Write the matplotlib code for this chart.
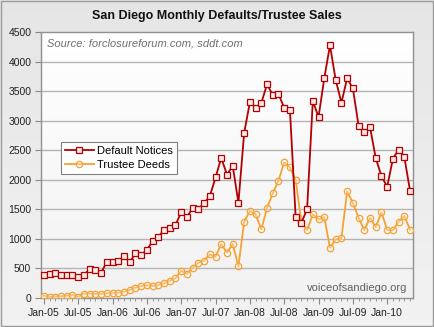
import matplotlib
matplotlib.use("Agg")
import matplotlib.pyplot as plt
import numpy as np

plt.rcParams['font.family'] = ['Liberation Sans', 'DejaVu Sans']

# Monthly data Jan-05 .. May-10
default_notices = [394, 400, 417, 394, 394, 389, 350, 394, 485, 468, 423, 614,
                   609, 620, 711, 605, 758, 727, 812, 964, 1037, 1150, 1189, 1235,
                   1450, 1365, 1528, 1500, 1607, 1720, 2040, 2370, 2087, 2235, 1612, 2791,
                   3311, 3219, 3299, 3615, 3434, 3451, 3219, 3185, 1370, 1274, 1500, 3333,
                   3062, 3717, 4275, 3688, 3304, 3717, 3547, 2915, 2803, 2888, 2368, 2059,
                   1883, 2357, 2509, 2380, 1810]
trustee_deeds = [40, 15, 25, 30, 40, 55, 20, 75, 75, 70, 70, 80,
                 80, 90, 105, 135, 175, 203, 214, 203, 220, 248, 293, 333,
                 462, 406, 513, 597, 630, 739, 697, 914, 767, 914, 535, 1291,
                 1472, 1416, 1162, 1522, 1771, 1985, 2296, 2211, 1996, 1291, 1150, 1416,
                 1331, 1365, 851, 993, 1010, 1805, 1612, 1358, 1150, 1358, 1201, 1450,
                 1150, 1145, 1291, 1387, 1155]
tick_labels = ['Jan-05', 'Jul-05', 'Jan-06', 'Jul-06', 'Jan-07', 'Jul-07',
               'Jan-08', 'Jul-08', 'Jan-09', 'Jul-09', 'Jan-10']
y_ticks = [0, 500, 1000, 1500, 2000, 2500, 3000, 3500, 4000, 4500]

months = np.arange(len(default_notices))

fig = plt.figure(figsize=(4.34, 3.27), dpi=100)
# figure background gradient
bg = fig.add_axes([0, 0, 1, 1], zorder=-10)
grad = np.linspace(0.90, 0.95, 256).reshape(-1, 1)
bg.imshow(np.dstack([grad, grad, grad]), aspect='auto', extent=[0, 1, 0, 1], origin='upper')
bg.set_xlim(0, 1); bg.set_ylim(0, 1)
bg.axis('off')
bg.add_patch(plt.Rectangle((0.002, 0.003), 0.995, 0.994, fill=False, ec='#9a9a9a', lw=1.0))

ax = fig.add_axes([0.0945, 0.0887, 0.857, 0.8134])
ax.set_xlim(-0.5, 64.5)
ax.set_ylim(0, 4500)
# axes gradient background
g2 = np.linspace(1.0, 0.95, 256).reshape(-1, 1)
ax.imshow(np.dstack([g2, g2, g2]), aspect='auto', extent=[-0.5, 64.5, 0, 4500],
          origin='upper', zorder=0)

for v in y_ticks[1:-1]:
    ax.axhline(v, color='#b4b4b4', lw=1.0, zorder=1)

ax.plot(months, default_notices, color='#b30000', lw=1.3, marker='s', markersize=3.8,
        mfc='#fbe8e8', mec='#b30000', mew=0.9, zorder=4, label='Default Notices')
ax.plot(months, trustee_deeds, color='#f6a233', lw=1.3, marker='o', markersize=4.6,
        mfc=(1, 1, 1, 0.3), mec='#f6a233', mew=0.9, zorder=3, label='Trustee Deeds')

ax.set_xticks(np.arange(0, 61, 6))
ax.set_xticklabels(tick_labels)
ax.set_xticks(months, minor=True)
ax.set_yticks(y_ticks)
ax.tick_params(axis='both', labelsize=7.5, colors='#333333', labelcolor='#222222')
ax.tick_params(axis='x', which='major', length=4, width=0.8, color='#888888', pad=3)
ax.tick_params(axis='x', which='minor', length=2, width=0.6, color='#888888')
ax.tick_params(axis='y', length=4, width=0.8, color='#888888', pad=3)
for s in ax.spines.values():
    s.set_color('#909090')
    s.set_linewidth(1.0)

ax.text(0.015, 0.975, 'Source: forclosureforum.com, sddt.com', transform=ax.transAxes,
        fontsize=8, style='italic', color='#707070', ha='left', va='top')
ax.text(0.985, 0.02, 'voiceofsandiego.org', transform=ax.transAxes,
        fontsize=8, color='#606060', ha='right', va='bottom')

fig.text(0.5, 0.95, 'San Diego Monthly Defaults/Trustee Sales', ha='center', va='center',
         fontsize=9, fontweight='bold', color='#111111')

leg = ax.legend(loc='upper left', bbox_to_anchor=(0.053, 0.585), fontsize=8,
                frameon=True, fancybox=False, framealpha=1, edgecolor='#808080',
                handlelength=2.6, borderpad=0.35, labelspacing=0.3, handletextpad=0.3,
                borderaxespad=0)
leg.get_frame().set_linewidth(0.8)

fig.savefig('out.png', dpi=100)
